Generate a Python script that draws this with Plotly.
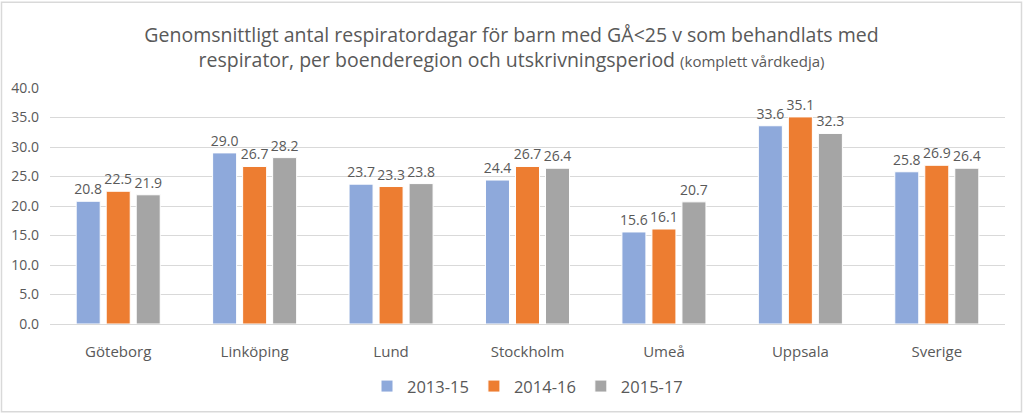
import plotly.graph_objects as go

categories = ["Göteborg", "Linköping", "Lund", "Stockholm", "Umeå", "Uppsala", "Sverige"]
series_names = ["2013-15", "2014-16", "2015-17"]
v_2013_15 = [20.8, 29.0, 23.7, 24.4, 15.6, 33.6, 25.8]
v_2014_16 = [22.5, 26.7, 23.3, 26.7, 16.1, 35.1, 26.9]
v_2015_17 = [21.9, 28.2, 23.8, 26.4, 20.7, 32.3, 26.4]
colors = ["#8EA9DB", "#ED7D31", "#A5A5A5"]
y_ticks = [0, 5, 10, 15, 20, 25, 30, 35, 40]

FONT = "Open Sans"
TXT = "#595959"

fig = go.Figure()
for name, vals, col in zip(series_names, [v_2013_15, v_2014_16, v_2015_17], colors):
    fig.add_trace(go.Bar(
        x=categories, y=vals, name=name,
        marker=dict(color=col, line=dict(color="white", width=1)),
        text=[f"{v:.1f}" for v in vals], textposition="outside",
        textfont=dict(size=14, color=TXT, family=FONT),
        constraintext="none",
        cliponaxis=False,
    ))

H_PLOT = 416 - 88 - 90
W_PLOT = 1023 - 50 - 18

fig.update_layout(
    width=1023, height=416,
    paper_bgcolor="white", plot_bgcolor="white",
    margin=dict(l=50, r=18, t=88, b=90),
    barmode="group", bargap=0.34, bargroupgap=0.2,
    font=dict(family=FONT, color=TXT),
    title=dict(
        text="Genomsnittligt antal respiratordagar för barn med GÅ<25 v som behandlats med<br>"
             "respirator, per boenderegion och utskrivningsperiod <span style='font-size:15px'>(komplett vårdkedja)</span>",
        x=0.5, xanchor="center", y=0.90, yanchor="top",
        font=dict(size=19.5, color=TXT, family=FONT),
    ),
    xaxis=dict(tickfont=dict(size=15, color=TXT), showline=True, linecolor="#D9D9D9",
               ticks="", showgrid=False, ticklabelstandoff=14),
    yaxis=dict(range=[0, 40], tickvals=y_ticks, ticktext=[f"{t:.1f}" for t in y_ticks],
               tickfont=dict(size=14, color=TXT), gridcolor="#D9D9D9", zeroline=False,
               showline=False, ticklabelstandoff=10),
    legend=dict(orientation="h", x=0.5, xanchor="center", y=-0.19, yanchor="top",
                font=dict(size=16.5, color=TXT), itemwidth=30, traceorder="normal"),
    shapes=[dict(type="rect", xref="paper", yref="paper",
                 x0=-48.5/W_PLOT, x1=1 + 16.5/W_PLOT,
                 y0=-88.5/H_PLOT, y1=1 + 86.5/H_PLOT,
                 line=dict(color="#D9D9D9", width=1.5))],
)

fig.write_html("out.html", config={"displayModeBar": False},
               post_script="document.body.style.margin='0';")
